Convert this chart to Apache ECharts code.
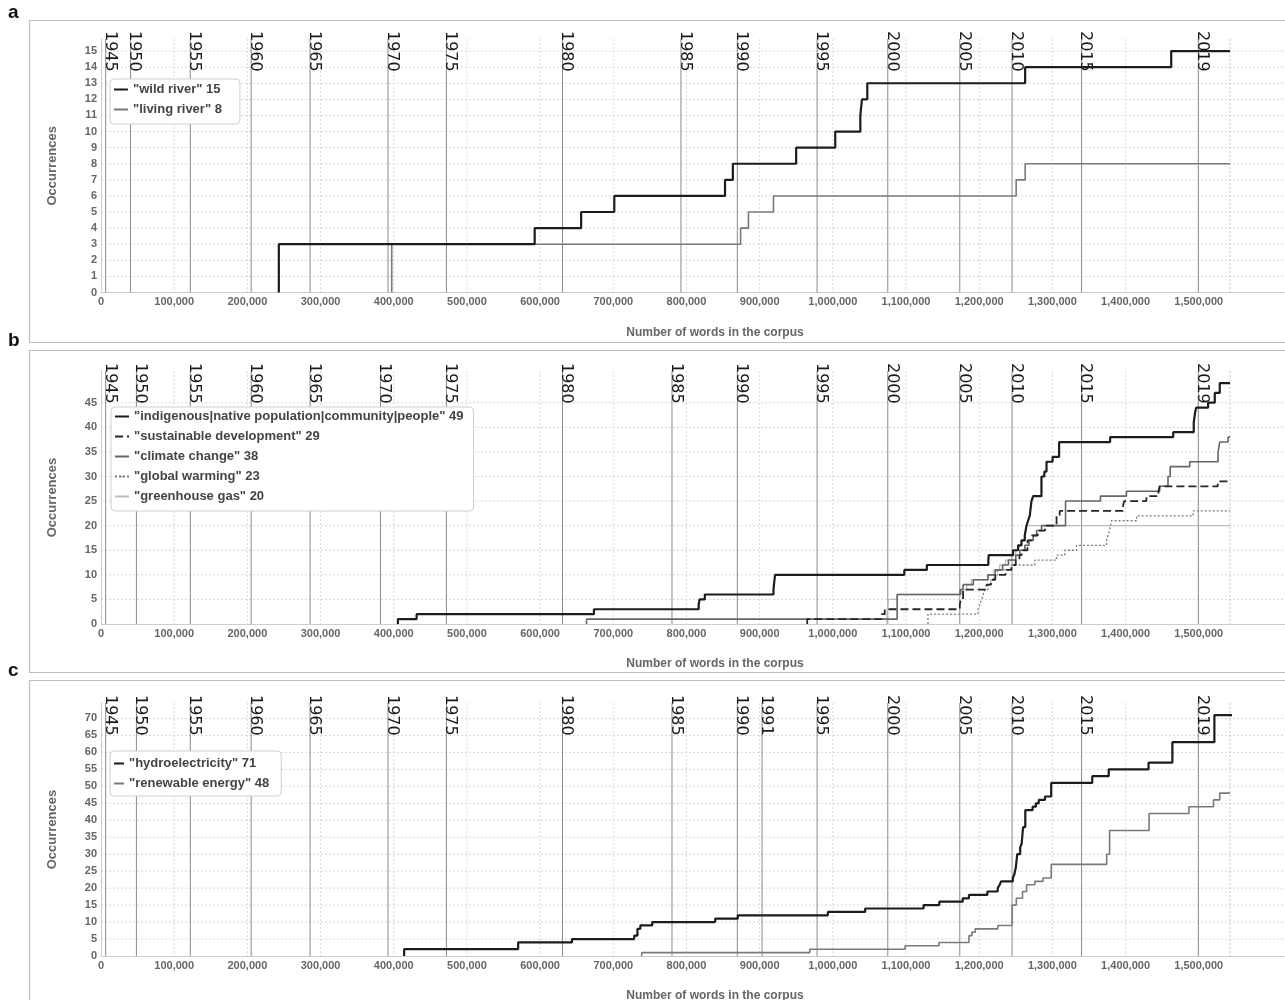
<!DOCTYPE html>
<html><head><meta charset="utf-8">
<script src="https://cdn.jsdelivr.net/npm/echarts@6/dist/echarts.min.js"></script>
<style>html,body{margin:0;padding:0;background:#fff}#chart{width:1285px;height:1000px}</style>
</head><body><div id="chart"></div>
<script>
// ---------- axis settings / tick values ----------
const xMax = 1678000;
const xTickStep = 100000;
const xLabelMax = 1500000;
const xGridTicks = [100000,200000,300000,400000,500000,600000,700000,800000,900000,1000000,1100000,1200000,1300000,1400000,1500000];
const corpusEnd = [1542700];

const yMaxA = 15.75, yMaxB = 51.45, yMaxC = 74.55;
const yTicksA = [0,1,2,3,4,5,6,7,8,9,10,11,12,13,14,15];
const yTicksB = [0,5,10,15,20,25,30,35,40,45];
const yTicksC = [0,5,10,15,20,25,30,35,40,45,50,55,60,65,70];

// ---------- year markers ----------
const yearsA = ['1945','1950','1955','1960','1965','1970','1975','1980','1985','1990','1995','2000','2005','2010','2015','2019'];
const yearPosA = [6400,40400,122000,205200,285700,392200,472000,630600,792500,869500,978500,1075100,1173500,1244900,1339900,1499400];
const yearsB = ['1945','1950','1955','1960','1965','1970','1975','1980','1985','1990','1995','2000','2005','2010','2015','2019'];
const yearPosB = [6400,48400,122000,205200,285700,381900,472000,630600,780200,869500,978500,1075100,1173500,1244900,1339900,1499400];
const yearsC = ['1945','1950','1955','1960','1965','1970','1975','1980','1985','1990','1991','1995','2000','2005','2010','2015','2019'];
const yearPosC = [6400,48400,122000,205200,285700,392200,472000,630600,780200,869500,903300,978500,1075100,1173500,1244900,1339900,1499400];

// ---------- series names ----------
const namesA = ['"wild river" 15', '"living river" 8'];
const namesB = ['"indigenous|native population|community|people" 49', '"sustainable development" 29', '"climate change" 38', '"global warming" 23', '"greenhouse gas" 20'];
const namesC = ['"hydroelectricity" 71', '"renewable energy" 48'];

// ---------- series values: [words in corpus, cumulative occurrences] ----------
const wildRiver = [[243000,0],[243000,3],[592600,4],[656100,5],[701400,6],[852700,7],[863400,8],[949900,9],[1003300,10],[1037600,11],[1039800,12],[1047100,13],[1262800,14],[1462400,15],[1542700,15]];
const livingRiver = [[397300,0],[397300,3],[874000,4],[884700,5],[918900,6],[1250500,7],[1262800,8],[1542700,8]];

const indigenous = [[405700,0],[405700,1],[431300,2],[673600,3],[816700,4],[818000,5],[825100,6],[918900,7],[919600,8],[920300,9],[921000,10],[1097700,11],[1128500,12],[1212500,13],[1213000,14],[1246300,15],[1253200,16],[1257700,17],[1262300,18],[1264600,20],[1266800,21],[1269100,22],[1271400,25],[1273700,26],[1285100,30],[1289000,31],[1292000,33],[1300300,34],[1309200,37],[1378900,38],[1465100,39],[1493200,41],[1495000,43],[1496500,44],[1512800,45],[1521900,47],[1528700,49],[1542700,49]];
const sustainable = [[965000,0],[965000,1],[1066500,2],[1071000,3],[1173500,4],[1175000,5],[1178000,7],[1210000,8],[1216000,9],[1222000,10],[1236000,11],[1244000,12],[1250000,13],[1255000,14],[1258000,15],[1266000,17],[1272000,18],[1280000,19],[1290000,20],[1305700,22],[1310000,23],[1396600,24],[1398000,25],[1428500,26],[1445000,27],[1446500,28],[1526000,29],[1542700,29]];
const climate = [[663500,0],[663500,1],[1087900,6],[1174000,7],[1178000,8],[1192000,9],[1212000,10],[1222000,11],[1232000,12],[1240000,13],[1250000,14],[1255600,15],[1262400,16],[1268000,17],[1273800,18],[1278400,19],[1285200,20],[1318000,25],[1365700,26],[1401200,27],[1446700,28],[1458000,30],[1461000,32],[1487700,33],[1526400,35],[1528700,37],[1540100,38],[1542700,38]];
const globalWarming = [[1130000,0],[1130000,2],[1198500,3],[1201000,4],[1203500,5],[1205500,6],[1207700,7],[1212000,8],[1216000,9],[1220000,10],[1225000,11],[1244100,12],[1276000,13],[1305600,14],[1317000,15],[1332900,16],[1374000,17],[1376000,18],[1378000,19],[1379500,20],[1380700,21],[1415000,22],[1492300,23],[1542700,23]];
const greenhouse = [[1074000,0],[1074000,2],[1076000,5],[1088000,6],[1176000,7],[1183000,8],[1189500,9],[1212200,10],[1220000,11],[1228000,12],[1236000,13],[1244000,14],[1250000,15],[1254000,16],[1258000,17],[1262000,18],[1264600,20],[1542700,20]];

const hydro = [[414200,0],[414200,2],[570000,4],[643600,5],[728600,6],[733000,8],[737000,9],[753200,10],[839200,11],[870100,12],[993200,13],[1044200,14],[1124000,15],[1145500,16],[1177500,17],[1186000,18],[1211200,19],[1225300,20],[1228000,21],[1230000,22],[1246000,23],[1248000,24],[1250000,26],[1252000,30],[1256000,32],[1258000,33],[1260000,38],[1263000,43],[1273000,44],[1277500,45],[1281400,46],[1289900,47],[1298400,51],[1354500,53],[1377000,55],[1431400,57],[1464000,63],[1521400,71],[1545500,71]];
const renewable = [[738800,0],[738800,1],[968500,2],[1098800,3],[1145000,4],[1186000,6],[1190000,7],[1194600,8],[1225400,9],[1245000,15],[1250700,17],[1259200,19],[1264800,21],[1276000,22],[1287200,23],[1298400,27],[1374200,30],[1378200,37],[1432100,42],[1486600,44],[1520200,46],[1528700,48],[1542800,48]];

// ---------- build chart ----------
const FONT = '"Liberation Sans", Arial, sans-serif';
const chart = echarts.init(document.getElementById('chart'), null, {renderer: 'canvas'});

const grids = [
  {left: 101, right: -44, top: 39, bottom: 707.5, outerBoundsMode: 'none', containLabel: false},
  {left: 101, right: -44, top: 371, bottom: 376, outerBoundsMode: 'none', containLabel: false},
  {left: 101, right: -44, top: 703, bottom: 44, outerBoundsMode: 'none', containLabel: false}
];

function fmtThousands(v) { return String(v).replace(/\B(?=(\d{3})+(?!\d))/g, ','); }

function xAxisFor(i) {
  return {
    type: 'value', gridIndex: i, min: 0, max: xMax, interval: xTickStep,
    axisLine: {show: true, lineStyle: {color: '#c9ced4', width: 1}},
    axisTick: {show: false}, splitLine: {show: false},
    axisLabel: {
      formatter: v => (v <= xLabelMax && v % xTickStep === 0) ? fmtThousands(v) : '',
      color: '#666', fontWeight: 'bold', fontSize: 11, fontFamily: FONT, margin: 4
    },
    name: 'Number of words in the corpus', nameLocation: 'middle', nameGap: 34,
    nameTextStyle: {color: '#666', fontWeight: 'bold', fontSize: 12, fontFamily: FONT}
  };
}
function yAxisFor(i, max, interval, ticks) {
  return {
    type: 'value', gridIndex: i, min: 0, max: max, interval: interval,
    axisLine: {show: true, lineStyle: {color: '#c9ced4', width: 1}},
    axisTick: {show: false}, splitLine: {show: false},
    axisLabel: {
      formatter: v => ticks.indexOf(v) >= 0 ? String(v) : '',
      color: '#666', fontWeight: 'bold', fontSize: 11, fontFamily: FONT, margin: 4
    },
    name: 'Occurrences', nameLocation: 'middle', nameGap: 42, nameRotate: 90,
    nameTextStyle: {color: '#666', fontWeight: 'bold', fontSize: 13, fontFamily: FONT}
  };
}

function vGrid(i) {
  return {
    type: 'custom', xAxisIndex: i, yAxisIndex: i, silent: true, clip: false, z: 1,
    data: xGridTicks.map(v => [v, 0]),
    renderItem: (params, api) => {
      const cs = params.coordSys;
      const x = api.coord([api.value(0), 0])[0];
      return {type: 'line', shape: {x1: x, y1: cs.y, x2: x, y2: cs.y + cs.height},
        style: {stroke: '#d2dae3', lineWidth: 1, lineDash: [2, 2]}};
    }
  };
}
function hGrid(i, ticks) {
  return {
    type: 'custom', xAxisIndex: i, yAxisIndex: i, silent: true, clip: false, z: 1,
    data: ticks.filter(v => v > 0).map(v => [0, v]),
    renderItem: (params, api) => {
      const cs = params.coordSys;
      const y = api.coord([0, api.value(1)])[1];
      return {type: 'line', shape: {x1: cs.x, y1: y, x2: cs.x + cs.width, y2: y},
        style: {stroke: '#d6d6d6', lineWidth: 1, lineDash: [2, 2]}};
    }
  };
}
function endLine(i) {
  return {
    type: 'custom', xAxisIndex: i, yAxisIndex: i, silent: true, clip: false, z: 1,
    data: corpusEnd.map(v => [v, 0]),
    renderItem: (params, api) => {
      const cs = params.coordSys;
      const x = api.coord([api.value(0), 0])[0];
      return {type: 'line', shape: {x1: x, y1: cs.y, x2: x, y2: cs.y + cs.height},
        style: {stroke: '#c4c4c4', lineWidth: 1, lineDash: [2, 2]}};
    }
  };
}
function yearMarks(i, labels, pos) {
  return {
    type: 'custom', xAxisIndex: i, yAxisIndex: i, silent: true, clip: false, z: 2,
    data: pos.map(v => [v, 0]),
    renderItem: (params, api) => {
      const cs = params.coordSys;
      const x = api.coord([api.value(0), 0])[0];
      return {type: 'group', children: [
        {type: 'line', shape: {x1: x, y1: cs.y, x2: x, y2: cs.y + cs.height},
          style: {stroke: '#8a8a8a', lineWidth: 1}},
        {type: 'text', x: x + 4, y: cs.y - 8, rotation: -Math.PI / 2,
          style: {text: labels[params.dataIndex], fill: '#1a1a1a',
            font: '16px "DejaVu Sans", sans-serif', align: 'left', verticalAlign: 'middle'}}
      ]};
    }
  };
}
function stepLine(name, data, i, color, width, type) {
  return {
    type: 'line', name: name, data: data, xAxisIndex: i, yAxisIndex: i,
    step: 'end', symbol: 'none', silent: true, z: 5,
    lineStyle: {color: color, width: width, type: type || 'solid'},
    itemStyle: {color: color}
  };
}
function legendFor(names, left, top, padding, itemWidth) {
  return {
    data: names, orient: 'vertical', left: left, top: top, padding: padding,
    itemWidth: itemWidth, itemHeight: 2, itemGap: 5, selectedMode: false,
    borderColor: '#cfcfcf', borderWidth: 1, borderRadius: 4, backgroundColor: '#ffffff',
    textStyle: {color: '#444', fontWeight: 'bold', fontSize: 13, fontFamily: FONT, lineHeight: 15},
    z: 10
  };
}

const option = {
  animation: false,
  backgroundColor: '#ffffff',
  grid: grids,
  xAxis: [xAxisFor(0), xAxisFor(1), xAxisFor(2)],
  yAxis: [yAxisFor(0, yMaxA, 1, yTicksA), yAxisFor(1, yMaxB, 5, yTicksB), yAxisFor(2, yMaxC, 5, yTicksC)],
  legend: [
    legendFor(namesA, 110, 79, [3, 18, 7, 3], 14),
    legendFor(namesB, 111, 407, [2, 10, 7, 3], 14),
    legendFor(namesC, 110, 751, [5, 12, 5, 3], 10)
  ],
  graphic: [
    {type: 'rect', shape: {x: 29.5, y: 20.5, width: 1300, height: 322}, style: {fill: 'none', stroke: '#bdbdbd', lineWidth: 1.2}, silent: true, z: 0},
    {type: 'rect', shape: {x: 29.5, y: 350.5, width: 1300, height: 322}, style: {fill: 'none', stroke: '#bdbdbd', lineWidth: 1.2}, silent: true, z: 0},
    {type: 'rect', shape: {x: 29.5, y: 680.5, width: 1300, height: 340}, style: {fill: 'none', stroke: '#bdbdbd', lineWidth: 1.2}, silent: true, z: 0},
    {type: 'text', left: 8, top: 3, style: {text: 'a', fill: '#111', font: 'bold 19px ' + FONT}, silent: true},
    {type: 'text', left: 8, top: 331, style: {text: 'b', fill: '#111', font: 'bold 19px ' + FONT}, silent: true},
    {type: 'text', left: 8, top: 661, style: {text: 'c', fill: '#111', font: 'bold 19px ' + FONT}, silent: true}
  ],
  series: [
    vGrid(0), hGrid(0, yTicksA), endLine(0), yearMarks(0, yearsA, yearPosA),
    vGrid(1), hGrid(1, yTicksB), endLine(1), yearMarks(1, yearsB, yearPosB),
    vGrid(2), hGrid(2, yTicksC), endLine(2), yearMarks(2, yearsC, yearPosC),
    stepLine(namesA[1], livingRiver, 0, '#7a7a7a', 1.6),
    stepLine(namesA[0], wildRiver, 0, '#1c1c1c', 2.2),
    stepLine(namesB[4], greenhouse, 1, '#bdbdbd', 1.3),
    stepLine(namesB[3], globalWarming, 1, '#7d7d7d', 1.3, [2, 2]),
    stepLine(namesB[2], climate, 1, '#666666', 1.6),
    stepLine(namesB[1], sustainable, 1, '#262626', 1.8, [8, 4]),
    stepLine(namesB[0], indigenous, 1, '#1c1c1c', 2.2),
    stepLine(namesC[1], renewable, 2, '#7a7a7a', 1.6),
    stepLine(namesC[0], hydro, 2, '#1c1c1c', 2.2)
  ]
};
chart.setOption(option);
</script>
</body></html>
